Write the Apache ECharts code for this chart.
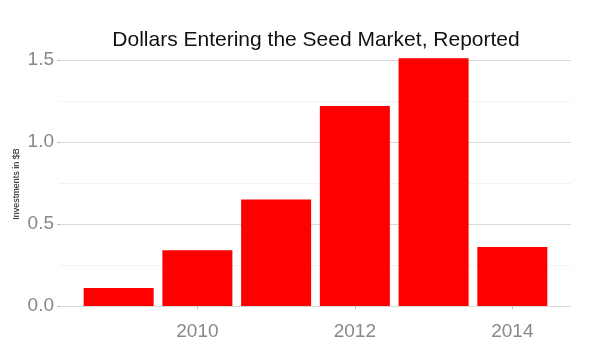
<!DOCTYPE html>
<html>
<head>
<meta charset="utf-8">
<script src="https://cdn.jsdelivr.net/npm/echarts@6/dist/echarts.min.js"></script>
<style>html,body{margin:0;padding:0;background:#fff}#c{width:600px;height:348px}</style>
</head>
<body>
<div id="c"></div>
<script>
const years = [2009, 2010, 2011, 2012, 2013, 2014];
const investments = [0.11, 0.34, 0.65, 1.22, 1.51, 0.36];
const xTickLabels = [2010, 2012, 2014];
const yTickLabels = [0, 0.5, 1.0, 1.5];
const titleText = 'Dollars Entering the Seed Market, Reported';
const yAxisTitle = 'Investments in $B';

const chart = echarts.init(document.getElementById('c'), null, {renderer: 'canvas'});
chart.setOption({
  animation: false,
  backgroundColor: '#fff',
  title: {
    text: titleText, left: 311, top: 25, textAlign: 'center',
    textStyle: {fontFamily: 'Liberation Sans, Arial, sans-serif', fontSize: 21, fontWeight: 'normal', color: '#111'}
  },
  graphic: [{
    type: 'text', x: 17, y: 184, rotation: Math.PI / 2,
    style: {text: yAxisTitle, fontSize: 9, fill: '#111', align: 'center', verticalAlign: 'middle',
      fontFamily: 'Liberation Sans, Arial, sans-serif'}
  }],
  grid: {left: 60, right: 29, top: 60, bottom: 42, containLabel: false},
  xAxis: {
    type: 'value', min: 2008.255, max: 2014.745,
    axisLine: {show: false},
    axisTick: {show: true, length: 3, lineStyle: {color: '#bbb'}, customValues: xTickLabels},
    axisLabel: {customValues: xTickLabels, color: '#888', fontSize: 19, margin: 16,
      fontFamily: 'Liberation Sans, Arial, sans-serif', formatter: v => String(v)},
    splitLine: {show: false}
  },
  yAxis: {
    type: 'value', min: 0, max: 1.5, interval: 0.5,
    axisLine: {show: false},
    axisTick: {show: true, length: 3, lineStyle: {color: '#bbb'}},
    axisLabel: {color: '#888', fontSize: 19, margin: 6, fontFamily: 'Liberation Sans, Arial, sans-serif',
      formatter: v => v.toFixed(1)},
    splitLine: {show: true, lineStyle: {color: '#d9d9d9', width: 1.2}},
    minorTick: {show: false, splitNumber: 2},
    minorSplitLine: {show: true, lineStyle: {color: '#f2f2f2', width: 1}}
  },
  series: [{
    type: 'bar',
    data: years.map((y, i) => [y, investments[i]]),
    barWidth: 70,
    clip: false,
    itemStyle: {color: '#ff0000'}
  }]
});
</script>
</body>
</html>
